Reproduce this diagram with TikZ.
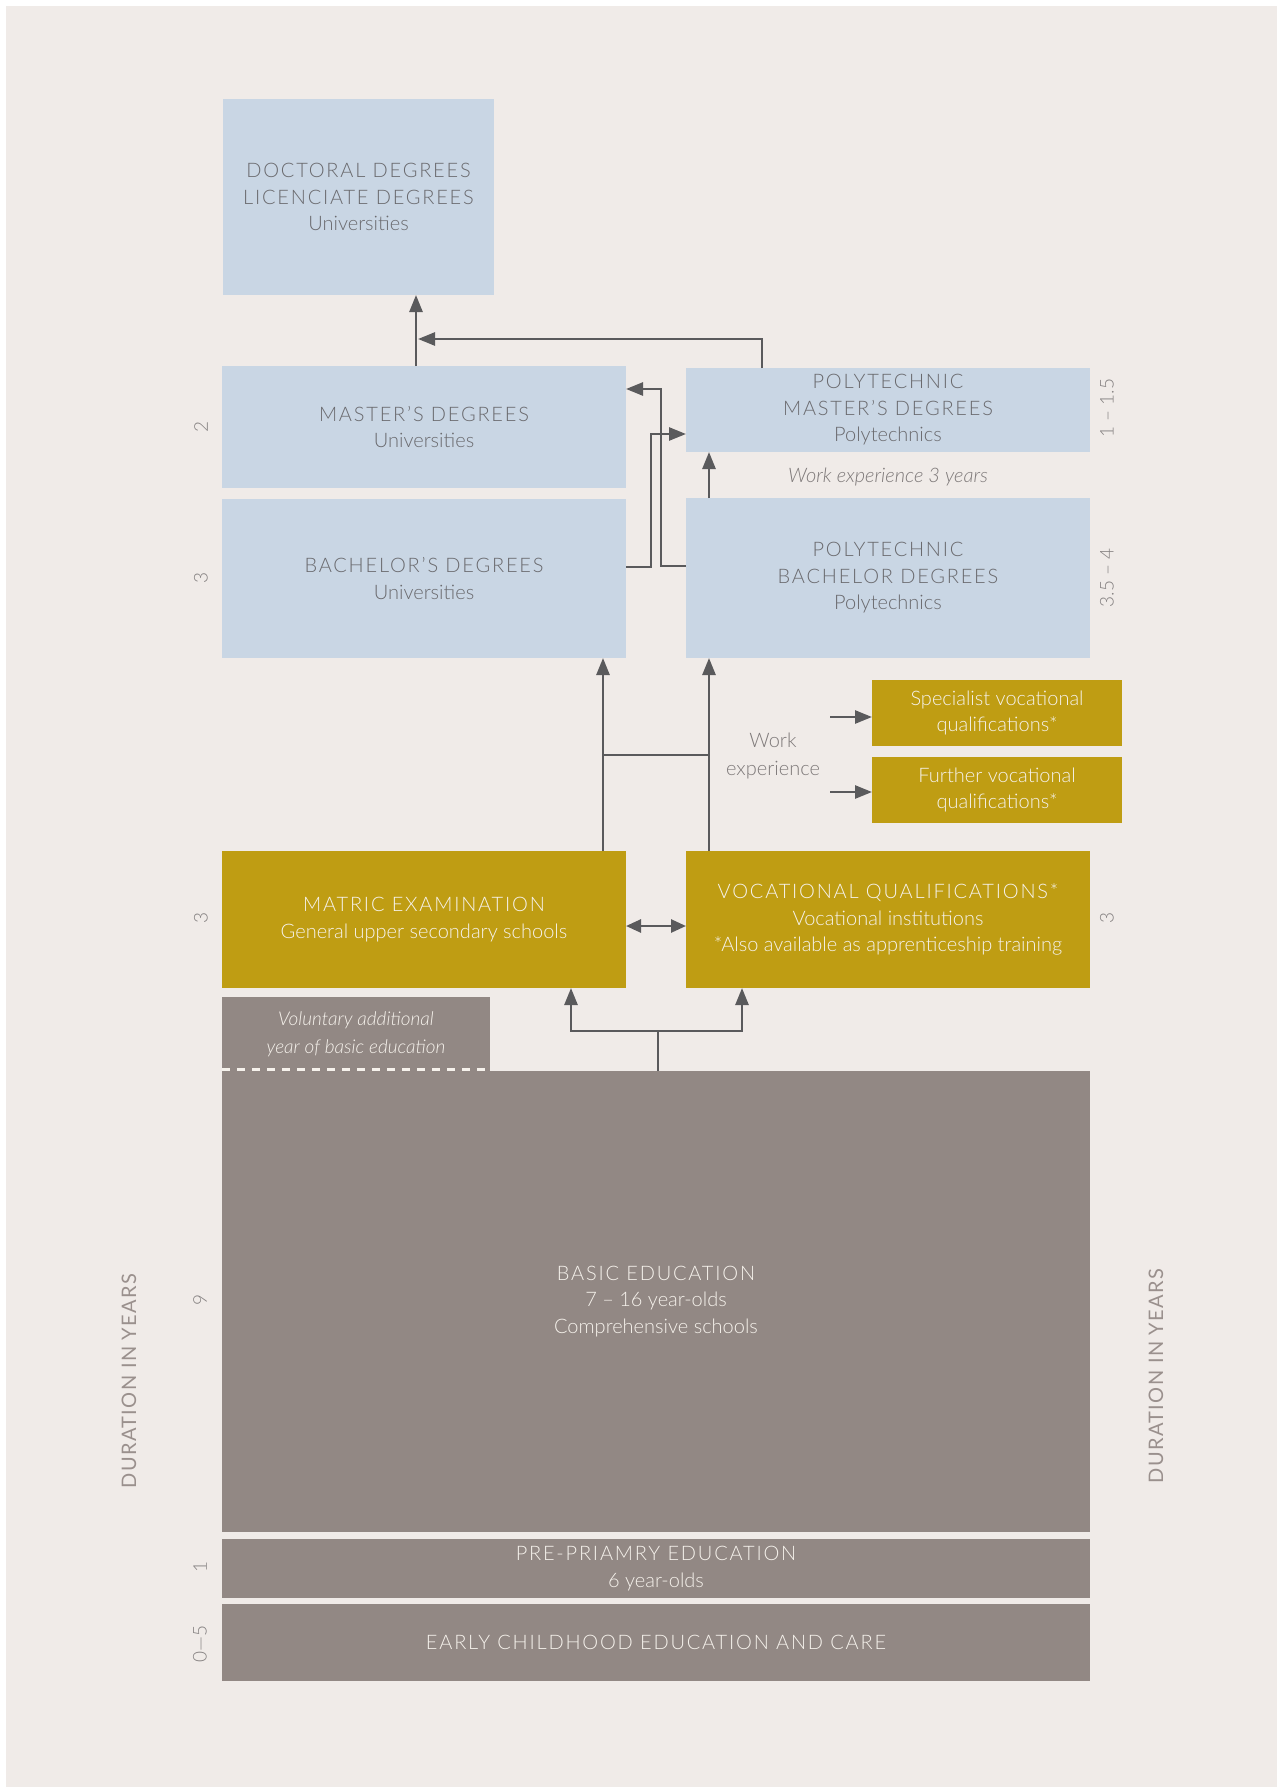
\documentclass[tikz,border=0pt]{standalone}
\usepackage{fontspec}
\IfFontExistsTF{Lato Light}{%
  \IfFontExistsTF{Lato Light Italic}{%
    \setmainfont{Lato Light}[ItalicFont={Lato Light Italic}]}{%
    \setmainfont{Lato Light}}}{%
  \setmainfont{Lato}}
\newfontfamily\durfont{Lato}[LetterSpace=7]
\newcommand\capsline[1]{{\addfontfeatures{LetterSpace=9}#1}}
\usetikzlibrary{calc,arrows.meta}
\definecolor{bg}{HTML}{F0EBE8}
\definecolor{bluebox}{HTML}{C9D6E4}
\definecolor{goldbox}{HTML}{BF9D13}
\definecolor{brownbox}{HTML}{928884}
\definecolor{arrowc}{HTML}{5A5A5C}
\definecolor{bluetext}{HTML}{6A6A6E}
\definecolor{lighttext}{HTML}{F6F2EC}
\definecolor{sidetext}{HTML}{858181}
\definecolor{notetext}{HTML}{7E7979}
\definecolor{durtext}{HTML}{9A908D}
\tikzset{
  box/.style={inner sep=0pt, outer sep=0pt, align=center, anchor=north west,
    font=\fontsize{20}{26.5}\selectfont},
  bluestyle/.style={box, fill=bluebox, text=bluetext},
  goldstyle/.style={box, fill=goldbox, text=lighttext},
  brownstyle/.style={box, fill=brownbox, text=lighttext},
  ln/.style={draw=arrowc, line width=2.6pt},
  arr/.style={ln, -{Triangle[length=17pt,width=13pt]}},
  arrtwo/.style={ln, {Triangle[length=15pt,width=13pt]}-{Triangle[length=15pt,width=13pt]}},
  sidelabel/.style={rotate=90, text=sidetext, font=\fontsize{19}{22}\selectfont, inner sep=0pt},
  durlabel/.style={rotate=90, text=durtext, font=\durfont\fontsize{20}{24}\selectfont, inner sep=0pt},
  note/.style={text=notetext, align=center, inner sep=0pt, font=\fontsize{20}{28}\selectfont},
}
\begin{document}
\begin{tikzpicture}[x=1pt, y=-1pt]
\useasboundingbox (0,0) rectangle (1286,1787);
\fill[white] (0,0) rectangle (1286,1787);
\fill[bg] (6,6) rectangle (1277,1787);

% boxes
\node[bluestyle, minimum width=271pt, minimum height=196pt] (doc) at (223,99)
  {\capsline{DOCTORAL DEGREES}\\\capsline{LICENCIATE DEGREES}\\Universities};
\node[bluestyle, minimum width=404pt, minimum height=122pt] (mas) at (222,366)
  {\capsline{MASTER'S DEGREES}\\Universities};
\node[bluestyle, minimum width=404pt, minimum height=84pt] (pmas) at (686,368)
  {\capsline{POLYTECHNIC}\\\capsline{MASTER'S DEGREES}\\Polytechnics};
\node[bluestyle, minimum width=404pt, minimum height=159pt] (bach) at (222,499)
  {\capsline{BACHELOR'S DEGREES}\\Universities};
\node[bluestyle, minimum width=404pt, minimum height=160pt] (pbach) at (686,498)
  {\capsline{POLYTECHNIC}\\\capsline{BACHELOR DEGREES}\\Polytechnics};
\node[goldstyle, minimum width=250pt, minimum height=66pt] (spec) at (872,680)
  {Specialist vocational\\qualifications*};
\node[goldstyle, minimum width=250pt, minimum height=66pt] (furth) at (872,757)
  {Further vocational\\qualifications*};
\node[goldstyle, minimum width=404pt, minimum height=137pt] (matric) at (222,851)
  {\capsline{MATRIC EXAMINATION}\\General upper secondary schools};
\node[goldstyle, minimum width=404pt, minimum height=137pt] (voc) at (686,851)
  {\capsline{VOCATIONAL QUALIFICATIONS*}\\Vocational institutions\\*Also available as apprenticeship training};
\node[brownstyle, minimum width=268pt, minimum height=74pt, font=\itshape\fontsize{19}{27.5}\selectfont] (vol) at (222,997)
  {Voluntary additional\\year of basic education};
\node[brownstyle, minimum width=868pt, minimum height=461pt] (basic) at (222,1071)
  {\capsline{BASIC EDUCATION}\\7 -- 16 year-olds\\Comprehensive schools};
\node[brownstyle, minimum width=868pt, minimum height=59pt] (pre) at (222,1539)
  {\capsline{PRE-PRIAMRY EDUCATION}\\6 year-olds};
\node[brownstyle, minimum width=868pt, minimum height=77pt] (early) at (222,1604)
  {\capsline{EARLY CHILDHOOD EDUCATION AND CARE}};

% dashed boundary of voluntary year
\draw[lighttext, line width=2.4pt, dash pattern=on 8pt off 7pt]
  ([yshift=1.5pt]vol.south west) -- ([yshift=1.5pt]vol.south east);

% notes
\node[note, font=\itshape\fontsize{20}{24}\selectfont] (wexp3) at (888,477) {Work experience 3 years};
\node[note] (wexp) at (773,756) {Work\\experience};

% side labels
\node[sidelabel] (l2) at (201,427) {2};
\node[sidelabel] (l3a) at (201,578) {3};
\node[sidelabel] (l3b) at (201,918) {3};
\node[sidelabel] (l9) at (200,1300) {9};
\node[sidelabel] (l1) at (200,1567) {1};
\node[sidelabel] (l05) at (200,1644) {0---5};
\node[sidelabel] (r115) at (1107,408) {1 -- 1.5};
\node[sidelabel] (r354) at (1107,578) {3.5 -- 4};
\node[sidelabel] (r3) at (1107,918) {3};
\node[durlabel] (durl) at (129,1381) {DURATION IN YEARS};
\node[durlabel] (durr) at (1156,1376) {DURATION IN YEARS};

% connectors
\draw[arr] ([xshift=194pt]mas.north west) -- ([xshift=193pt]doc.south west);
\coordinate (j1) at (418,339);
\draw[arr] ([xshift=76pt]pmas.north west) |- (j1);
\draw[arr] ([yshift=-68pt]bach.north east) -- ++(25,0) |- ([yshift=-66pt]pmas.north west);
\draw[arr] ([yshift=-68pt]pbach.north west) -- ++(-25,0) |- ([yshift=-23pt]mas.north east);
\draw[arr] ([xshift=23pt]pbach.north west) -- ([xshift=23pt]pmas.south west);

\coordinate (mx) at ([xshift=381pt]matric.north west);
\coordinate (vx) at ([xshift=23pt]voc.north west);
\draw[arr] (mx) -- ([xshift=381pt]bach.south west);
\draw[arr] (vx) -- ([xshift=23pt]pbach.south west);
\draw[ln] ([yshift=96pt]mx) -- ([yshift=96pt]vx);

\draw[arrtwo] ([yshift=-75pt]matric.north east) -- ([yshift=-75pt]voc.north west);

\draw[arr] ([shift={(-42pt,-4pt)}]spec.west) -- ([yshift=-4pt]spec.west);
\draw[arr] ([shift={(-42pt,-2pt)}]furth.west) -- ([yshift=-2pt]furth.west);

\coordinate (bt) at ([xshift=436pt]basic.north west);
\coordinate (fk) at ([yshift=40pt]bt);
\draw[ln] (bt) -- (fk);
\draw[arr] (fk) -| ([xshift=349pt]matric.south west);
\draw[arr] (fk) -| ([xshift=56pt]voc.south west);
\end{tikzpicture}
\end{document}
